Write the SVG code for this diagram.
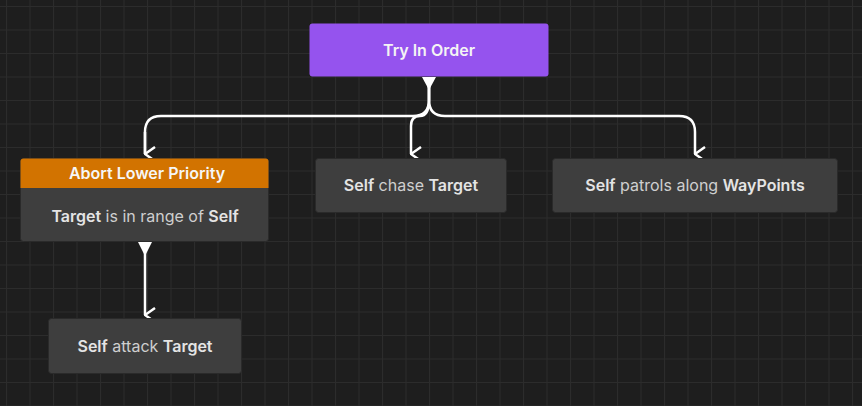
<svg xmlns="http://www.w3.org/2000/svg" width="862" height="406" viewBox="0 0 862 406">
<style>
.n{fill:#3e3e3e;stroke:#2a2a2a;stroke-width:1}
.t{font-family:Inter,"Liberation Sans",sans-serif;font-size:16px;fill:#cfcfcf;text-anchor:middle}
.b{font-weight:600;fill:#e4e4e4}
.c{fill:none;stroke:#fff;stroke-width:2.5}
</style>
<defs>
<pattern id="g" width="23.5" height="23.5" patternUnits="userSpaceOnUse" x="6" y="6">
<rect width="23.5" height="23.5" fill="#1e1e1e"/>
<path d="M0 0H23.5M0 0V23.5" stroke="#2c2c2c" stroke-width="2"/>
</pattern>
<marker id="a" viewBox="0 0 16 12" refX="8" refY="11" markerWidth="16" markerHeight="12" markerUnits="userSpaceOnUse" orient="auto-start-reverse">
<path d="M1 1L8 11L15 1" fill="none" stroke="#fff" stroke-width="2.5"/>
</marker>
</defs>
<rect width="862" height="406" fill="url(#g)"/>
<g id="connectors">
<path class="c" d="M429 86V100Q429 116 413 116H161Q145 116 145 132V154"/>
<path class="c" d="M429 86V100Q429 116 420 116Q411 116 411 126V154" marker-end="url(#a)"/>
<path class="c" d="M429 86V100Q429 116 445 116H679Q695 116 695 132V154" marker-end="url(#a)"/>
<path class="c" d="M145 132V154" marker-end="url(#a)"/>
<path class="c" d="M145 250V315" marker-end="url(#a)"/>
<path d="M422 77H436L429 90Z" fill="#fff"/>
<path d="M138 242H152L145 256Z" fill="#fff"/>
</g>
<g id="try-in-order">
<rect x="309.5" y="23.5" width="239" height="53" rx="3" fill="#9553ee"/>
<text class="t b" x="429" y="56" fill="#fff" style="fill:#f4f4f4">Try In Order</text>
</g>
<g id="abort-lower-priority">
<rect class="n" x="20.5" y="158.5" width="248" height="83" rx="3"/>
<path d="M20.5 188V161.5Q20.5 158.5 23.5 158.5H265.5Q268.5 158.5 268.5 161.5V188Z" fill="#d27300"/>
<text class="t b" x="147" y="179" style="fill:#f6f6f6">Abort Lower Priority</text>
<text class="t" x="145" y="222"><tspan class="b">Target</tspan> is in range of <tspan class="b">Self</tspan></text>
</g>
<g id="self-chase-target">
<rect class="n" x="315.5" y="158.5" width="191" height="54" rx="3"/>
<text class="t" x="411" y="191"><tspan class="b">Self</tspan> chase <tspan class="b">Target</tspan></text>
</g>
<g id="self-patrols">
<rect class="n" x="552.5" y="158.5" width="285" height="54" rx="3"/>
<text class="t" x="695" y="191"><tspan class="b">Self</tspan> patrols along <tspan class="b">WayPoints</tspan></text>
</g>
<g id="self-attack-target">
<rect class="n" x="48.5" y="318.5" width="193" height="55" rx="3"/>
<text class="t" x="145" y="352"><tspan class="b">Self</tspan> attack <tspan class="b">Target</tspan></text>
</g>
</svg>
